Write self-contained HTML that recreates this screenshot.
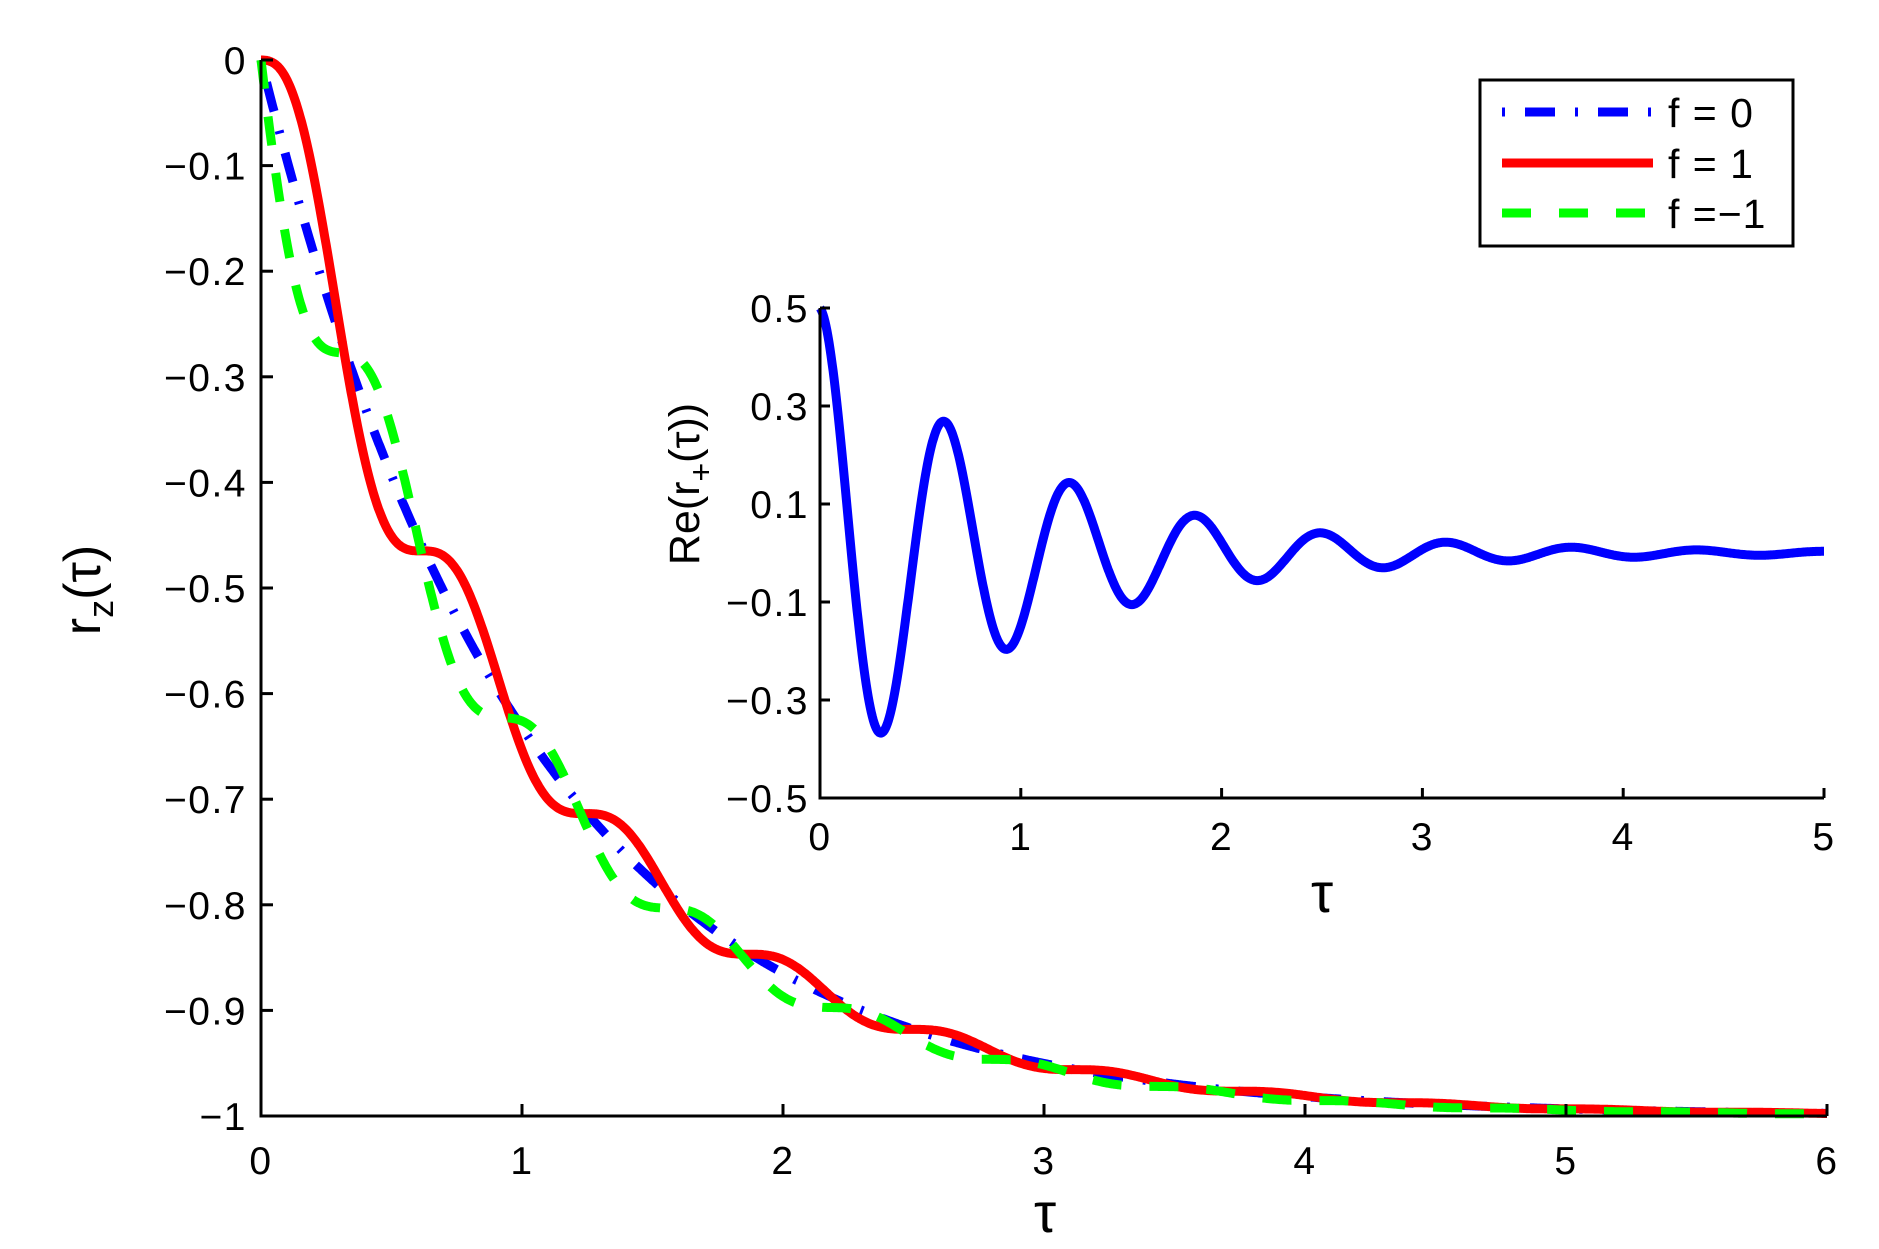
<!DOCTYPE html>
<html><head><meta charset="utf-8"><style>
html,body{margin:0;padding:0;background:#fff;}
svg{display:block;}
text{font-family:"Liberation Sans",sans-serif;fill:#000;}
</style></head><body>
<svg id="s" width="1879" height="1249" viewBox="0 0 1879 1249" xmlns="http://www.w3.org/2000/svg">
<g id="curves" fill="none" stroke-linejoin="round"></g>
<g stroke="#000" stroke-width="3" fill="none">
<path d="M261,60 V1116 H1827"/>
<path d="M820,308 V798 H1824"/>
</g>
<g id="ticks" stroke="#000" stroke-width="3"></g>
<g id="labels" font-size="39" letter-spacing="1.5"></g>
<text x="1045" y="1232" font-size="56" text-anchor="middle" font-family="Liberation Serif">τ</text>
<text x="1322" y="912" font-size="56" text-anchor="middle" font-family="Liberation Serif">τ</text>
<text transform="translate(100,590) rotate(-90)" font-size="52" text-anchor="middle">r<tspan font-size="36" dy="13">z</tspan><tspan dy="-13">(τ)</tspan></text>
<text transform="translate(699,484) rotate(-90)" font-size="43" text-anchor="middle">Re(r<tspan font-size="32" dy="13">+</tspan><tspan dy="-13">(τ))</tspan></text>
<rect x="1480" y="80" width="313" height="166" fill="#fff" stroke="#000" stroke-width="3"/>
<line x1="1502" y1="112" x2="1653" y2="112" stroke="#00f" stroke-width="9" stroke-dasharray="3,20,30,20"/>
<line x1="1502" y1="163" x2="1653" y2="163" stroke="#f00" stroke-width="9"/>
<line x1="1502" y1="213" x2="1653" y2="213" stroke="#0f0" stroke-width="9" stroke-dasharray="29,28"/>
<text x="1668" y="127" font-size="41" letter-spacing="1">f = 0</text>
<text x="1668" y="178" font-size="41" letter-spacing="1">f = 1</text>
<text x="1668" y="228" font-size="41" letter-spacing="1">f =−1</text>
</svg>
<script>
var NS="http://www.w3.org/2000/svg";
function X(t){return 261+t*261;} function Y(v){return 60-v*1056;}
function XI(t){return 820+t*200.8;} function YI(v){return 553-v*490;}
var w=10.05;
function path(f,xf,yf,t0,t1,n){var d="";for(var i=0;i<=n;i++){var t=t0+(t1-t0)*i/n;d+=(i?"L":"M")+xf(t).toFixed(1)+","+yf(f(t)).toFixed(1);}return d;}
function add(g,d,col,w2,dash){var p=document.createElementNS(NS,"path");p.setAttribute("d",d);p.setAttribute("stroke",col);p.setAttribute("stroke-width",w2);if(dash)p.setAttribute("stroke-dasharray",dash);g.appendChild(p);}
var g=document.getElementById("curves");
add(g,path(function(t){return -1+Math.exp(-t);},X,Y,0,6,1200),"#00f",9,"3,20,30,20");
add(g,path(function(t){return -1+Math.exp(-t)*(1+Math.sin(w*t)/w);},X,Y,0,6,1200),"#f00",9);
add(g,path(function(t){return -1+Math.exp(-1.04*t)*(1-Math.sin(w*t)/w);},X,Y,0,6,1200),"#0f0",9,"29,28");
add(g,path(function(t){return 0.5*Math.exp(-t)*Math.cos(w*t);},XI,YI,0,5,1000),"#00f",9);
var tk=document.getElementById("ticks"),lb=document.getElementById("labels");
function ln(x1,y1,x2,y2){var l=document.createElementNS(NS,"line");l.setAttribute("x1",x1);l.setAttribute("y1",y1);l.setAttribute("x2",x2);l.setAttribute("y2",y2);tk.appendChild(l);}
function tx(x,y,s,a){var t=document.createElementNS(NS,"text");t.setAttribute("x",x);t.setAttribute("y",y);t.setAttribute("text-anchor",a);t.textContent=s;lb.appendChild(t);}
for(var i=0;i<=6;i++){ln(X(i),1116,X(i),1104);tx(X(i),1174,""+i,"middle");}
for(var i=0;i<=10;i++){var v=-i/10;ln(261,Y(v),273,Y(v));tx(247,Y(v)+14,i==0?"0":(i==10?"−1":"−0."+i),"end");}
for(var i=0;i<=5;i++){ln(XI(i),798,XI(i),788);tx(XI(i),850,""+i,"middle");}
var iv=[0.5,0.3,0.1,-0.1,-0.3,-0.5],il=["0.5","0.3","0.1","−0.1","−0.3","−0.5"];
for(var i=0;i<6;i++){ln(820,YI(iv[i]),830,YI(iv[i]));tx(809,YI(iv[i])+14,il[i],"end");}
</script>
</body></html>
